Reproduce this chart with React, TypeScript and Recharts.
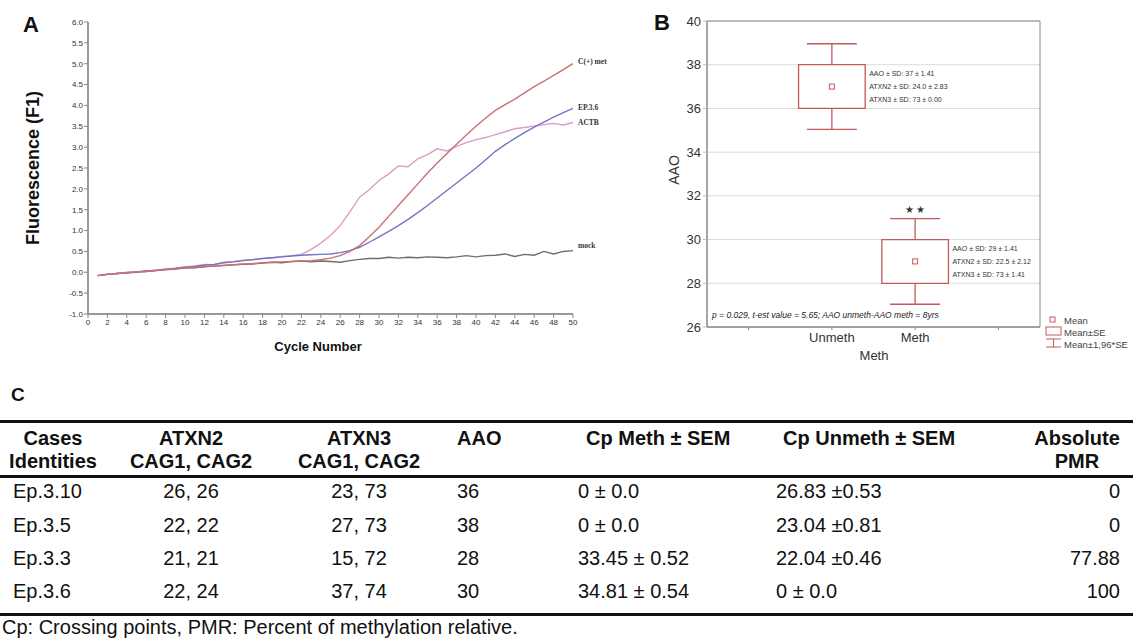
import React from "react";
import {
  LineChart,
  Line,
  XAxis,
  YAxis,
  ComposedChart,
  Scatter,
  ReferenceArea,
  ReferenceLine,
  CartesianGrid,
  LabelList,
} from "recharts";

// ---- panel A: real-time PCR curves ----
const cycles = [
  1, 2, 3, 4, 5, 6, 7, 8, 9, 10, 11, 12, 13, 14, 15, 16, 17, 18, 19, 20, 21, 22, 23, 24, 25,
  26, 27, 28, 29, 30, 31, 32, 33, 34, 35, 36, 37, 38, 39, 40, 41, 42, 43, 44, 45, 46, 47, 48, 49, 50,
];
const cPlusMet = [
  -0.08, -0.05, -0.03, -0.01, 0.01, 0.03, 0.05, 0.07, 0.09, 0.11,
  0.12, 0.14, 0.15, 0.17, 0.18, 0.2, 0.21, 0.23, 0.24, 0.25,
  0.26, 0.27, 0.28, 0.3, 0.34, 0.4, 0.5, 0.64, 0.85, 1.08,
  1.34, 1.6, 1.86, 2.12, 2.38, 2.62, 2.85, 3.07, 3.29, 3.5,
  3.7, 3.88, 4.02, 4.15, 4.3, 4.45, 4.58, 4.72, 4.86, 5.0,
];
const ep36 = [
  -0.08, -0.05, -0.03, -0.01, 0.0, 0.02, 0.04, 0.07, 0.09, 0.12,
  0.14, 0.17, 0.19, 0.23, 0.25, 0.28, 0.3, 0.33, 0.35, 0.37,
  0.39, 0.41, 0.42, 0.43, 0.44, 0.47, 0.52, 0.6, 0.72, 0.85,
  0.98, 1.12, 1.27, 1.43, 1.6, 1.78, 1.96, 2.14, 2.32, 2.5,
  2.7, 2.9, 3.06, 3.21, 3.35, 3.48, 3.6, 3.72, 3.83, 3.93,
];
const actb = [
  -0.08, -0.04, -0.03, 0.0, 0.01, 0.02, 0.05, 0.08, 0.1, 0.13,
  0.15, 0.19, 0.18, 0.24, 0.26, 0.29, 0.31, 0.33, 0.35, 0.38,
  0.4, 0.43, 0.55, 0.7, 0.88, 1.12, 1.45, 1.8, 1.98, 2.2,
  2.36, 2.55, 2.53, 2.72, 2.82, 2.96, 2.91, 3.02, 3.11, 3.18,
  3.23, 3.3, 3.37, 3.44, 3.47, 3.51, 3.54, 3.57, 3.53, 3.59,
];
const mock = [
  -0.08, -0.05, -0.03, -0.01, 0.01, 0.03, 0.04, 0.06, 0.08, 0.1,
  0.11, 0.13, 0.15, 0.16, 0.18, 0.19, 0.2, 0.22, 0.24, 0.23,
  0.26, 0.27, 0.25, 0.27, 0.26, 0.24, 0.28, 0.31, 0.33, 0.33,
  0.36, 0.34, 0.36, 0.35, 0.37, 0.36, 0.35, 0.37, 0.4, 0.37,
  0.4, 0.41, 0.44, 0.38, 0.43, 0.41, 0.5, 0.44, 0.5, 0.52,
];
const cycleTicks = [0, 2, 4, 6, 8, 10, 12, 14, 16, 18, 20, 22, 24, 26, 28, 30, 32, 34, 36, 38, 40, 42, 44, 46, 48, 50];
const fluoTicks = [-1, -0.5, 0, 0.5, 1, 1.5, 2, 2.5, 3, 3.5, 4, 4.5, 5, 5.5, 6];

// ---- panel B: AAO by methylation status ----
const groups = ["Unmeth", "Meth"];
const groupX = [1.5, 2.5];
const aaoMean = [37, 29];
const aaoSE = [1, 1];
const groupTicks = [0.5, 1.5, 2.5, 3.5];
const aaoTicks = [26, 28, 30, 32, 34, 36, 38, 40];
const groupNotes = [
  ["AAO ± SD: 37 ± 1.41", "ATXN2 ± SD: 24.0 ± 2.83", "ATXN3 ± SD: 73 ± 0.00"],
  ["AAO ± SD: 29 ± 1.41", "ATXN2 ± SD: 22.5 ± 2.12", "ATXN3 ± SD: 73 ± 1.41"],
];
const significance = ["", "★ ★"];

// ---- panel C: table ----
const caseIds = ["Ep.3.10", "Ep.3.5", "Ep.3.3", "Ep.3.6"];
const atxn2 = ["26, 26", "22, 22", "21, 21", "22, 24"];
const atxn3 = ["23, 73", "27, 73", "15, 72", "37, 74"];
const aaoCases = ["36", "38", "28", "30"];
const cpMeth = ["0 ± 0.0", "0 ± 0.0", "33.45 ± 0.52", "34.81 ± 0.54"];
const cpUnmeth = ["26.83 ±0.53", "23.04 ±0.81", "22.04 ±0.46", "0 ± 0.0"];
const absPmr = ["0", "0", "77.88", "100"];

const BOX_RED = "#c4585c";
const SANS = "'Liberation Sans', Arial, sans-serif";

const pcrData = cycles.map((c, i) => ({
  cycle: c,
  cPlusMet: cPlusMet[i],
  ep36: ep36[i],
  actb: actb[i],
  mock: mock[i],
}));

function endLabel(text: string, dy: number) {
  return (props: any) => {
    if (props.index !== cycles.length - 1) return null;
    return (
      <text
        x={props.x + 5}
        y={props.y + dy}
        fontSize={7.5}
        fontWeight="bold"
        fontFamily="'Liberation Serif', serif"
        fill="#333"
        dominantBaseline="central"
      >
        {text}
      </text>
    );
  };
}

function PanelA() {
  const series = [
    { key: "mock", color: "#6e6e6e", label: "mock", dy: -5 },
    { key: "actb", color: "#dc9cc4", label: "ACTB", dy: 0 },
    { key: "ep36", color: "#7474c4", label: "EP.3.6", dy: -1 },
    { key: "cPlusMet", color: "#cc7070", label: "C(+) met", dy: -2 },
  ];
  return (
    <div style={{ position: "absolute", left: 0, top: 0 }}>
      <LineChart width={620} height={340} data={pcrData} margin={{ top: 22, right: 47, left: 58, bottom: 6 }}>
        <XAxis
          dataKey="cycle"
          type="number"
          domain={[0, 50]}
          ticks={cycleTicks}
          interval={0}
          height={20}
          tick={{ fontSize: 8, fill: "#333", fontFamily: SANS }}
          tickSize={4}
          tickMargin={1}
          axisLine={{ stroke: "#999", strokeWidth: 2 }}
          tickLine={{ stroke: "#888" }}
        />
        <YAxis
          type="number"
          domain={[-1, 6]}
          ticks={fluoTicks}
          interval={0}
          width={30}
          tickFormatter={(v: number) => v.toFixed(1)}
          tick={{ fontSize: 8, fill: "#333", fontFamily: SANS }}
          tickSize={4}
          tickMargin={1}
          axisLine={{ stroke: "#999", strokeWidth: 2 }}
          tickLine={{ stroke: "#888" }}
        />
        {series.map((s) => (
          <Line
            key={s.key}
            dataKey={s.key}
            stroke={s.color}
            strokeWidth={1.4}
            dot={false}
            type="linear"
            isAnimationActive={false}
          >
            <LabelList dataKey={s.key} content={endLabel(s.label, s.dy)} />
          </Line>
        ))}
      </LineChart>
      <div
        style={{
          position: "absolute",
          left: 33,
          top: 168,
          transform: "translate(-50%, -50%) rotate(-90deg)",
          fontFamily: SANS,
          fontWeight: "bold",
          fontSize: 18,
          whiteSpace: "nowrap",
          color: "#111",
        }}
      >
        Fluorescence (F1)
      </div>
      <div
        style={{
          position: "absolute",
          left: 318,
          top: 346,
          transform: "translate(-50%, -50%)",
          fontFamily: SANS,
          fontWeight: "bold",
          fontSize: 13,
          whiteSpace: "nowrap",
          color: "#111",
        }}
      >
        Cycle Number
      </div>
    </div>
  );
}

function meanMarker(props: any) {
  return <rect x={props.cx - 2.5} y={props.cy - 2.5} width={5} height={5} fill="#fff" stroke={BOX_RED} strokeWidth={1} />;
}

function noteShape(props: any) {
  const lines: string[] = props.payload.lines;
  return (
    <g>
      {lines.map((t, k) => (
        <text
          key={k}
          x={props.cx + 4}
          y={props.cy + (k - 1) * 13}
          fontSize={7}
          fontFamily={SANS}
          fill="#333"
          dominantBaseline="central"
        >
          {t}
        </text>
      ))}
    </g>
  );
}

function starShape(props: any) {
  return (
    <text
      x={props.cx}
      y={props.cy - 9}
      fontSize={10}
      textAnchor="middle"
      fill="#333"
      dominantBaseline="central"
    >
      {props.payload.text}
    </text>
  );
}

function PanelB() {
  const BOX_HALF = 0.4;
  const CAP_HALF = 0.3;
  const means = groups.map((g, i) => ({ x: groupX[i], y: aaoMean[i] }));
  const notes = groups.map((g, i) => ({ x: groupX[i] + BOX_HALF, y: aaoMean[i], lines: groupNotes[i] }));
  const stars = groups
    .map((g, i) => ({ x: groupX[i], y: aaoMean[i] + 1.96 * aaoSE[i], text: significance[i] }))
    .filter((d) => d.text);
  return (
    <div style={{ position: "absolute", left: 620, top: 0 }}>
      <ComposedChart width={430} height={365} margin={{ top: 21, right: 10, left: 47, bottom: 14 }}>
        <CartesianGrid vertical={false} stroke="#dcdcdc" />
        <XAxis
          dataKey="x"
          type="number"
          domain={[0, 4]}
          ticks={groupTicks}
          interval={0}
          height={24}
          tickFormatter={(v: number) => {
            const i = groupX.indexOf(v);
            return i >= 0 ? groups[i] : "";
          }}
          tick={{ fontSize: 13, fill: "#333", fontFamily: SANS }}
          tickSize={3}
          tickMargin={3}
          axisLine={{ stroke: "#888" }}
          tickLine={{ stroke: "#888" }}
        />
        <YAxis
          dataKey="y"
          type="number"
          domain={[26, 40]}
          ticks={aaoTicks}
          interval={0}
          width={40}
          tick={{ fontSize: 13, fill: "#333", fontFamily: SANS }}
          tickSize={4}
          tickMargin={2}
          axisLine={{ stroke: "#888" }}
          tickLine={{ stroke: "#bbb" }}
        />
        <ReferenceArea x1={0} x2={4} y1={26} y2={40} fill="none" stroke="#888" strokeWidth={1} />
        {groups.map((g, i) => {
          const gx = groupX[i];
          const m = aaoMean[i];
          const se = aaoSE[i];
          const hi = m + 1.96 * se;
          const lo = m - 1.96 * se;
          return (
            <React.Fragment key={g}>
              <ReferenceArea
                x1={gx - BOX_HALF}
                x2={gx + BOX_HALF}
                y1={m - se}
                y2={m + se}
                fill="#fff"
                fillOpacity={1}
                stroke={BOX_RED}
                strokeWidth={1.3}
              />
              <ReferenceLine segment={[{ x: gx, y: m + se }, { x: gx, y: hi }]} stroke={BOX_RED} strokeWidth={1.3} />
              <ReferenceLine segment={[{ x: gx, y: m - se }, { x: gx, y: lo }]} stroke={BOX_RED} strokeWidth={1.3} />
              <ReferenceLine segment={[{ x: gx - CAP_HALF, y: hi }, { x: gx + CAP_HALF, y: hi }]} stroke={BOX_RED} strokeWidth={1.3} />
              <ReferenceLine segment={[{ x: gx - CAP_HALF, y: lo }, { x: gx + CAP_HALF, y: lo }]} stroke={BOX_RED} strokeWidth={1.3} />
            </React.Fragment>
          );
        })}
        <Scatter data={means} shape={meanMarker} isAnimationActive={false} />
        <Scatter data={notes} shape={noteShape} isAnimationActive={false} />
        <Scatter data={stars} shape={starShape} isAnimationActive={false} />
      </ComposedChart>
      <div
        style={{
          position: "absolute",
          left: 92,
          top: 310,
          fontFamily: SANS,
          fontStyle: "italic",
          fontSize: 8.5,
          whiteSpace: "nowrap",
          color: "#222",
        }}
      >
        p = 0.029, t-est value = 5.65; AAO unmeth-AAO meth = 8yrs
      </div>
      <div
        style={{
          position: "absolute",
          left: 54,
          top: 170,
          transform: "translate(-50%, -50%) rotate(-90deg)",
          fontFamily: SANS,
          fontSize: 14,
          color: "#333",
        }}
      >
        AAO
      </div>
      <div
        style={{
          position: "absolute",
          left: 254,
          top: 355,
          transform: "translate(-50%, -50%)",
          fontFamily: SANS,
          fontSize: 13,
          color: "#333",
        }}
      >
        Meth
      </div>
      <svg width={90} height={42} style={{ position: "absolute", left: 424, top: 312 }}>
        <rect x={6} y={5} width={5} height={5} fill="#fff" stroke={BOX_RED} />
        <text x={20} y={8} fontSize={9.5} fontFamily={SANS} fill="#444" dominantBaseline="central">Mean</text>
        <rect x={2} y={15} width={15} height={8} fill="#fff" stroke={BOX_RED} />
        <text x={20} y={20} fontSize={9.5} fontFamily={SANS} fill="#444" dominantBaseline="central">Mean±SE</text>
        <line x1={2} y1={27} x2={17} y2={27} stroke={BOX_RED} />
        <line x1={9.5} y1={27} x2={9.5} y2={35} stroke={BOX_RED} />
        <line x1={2} y1={35} x2={17} y2={35} stroke={BOX_RED} />
        <text x={20} y={32} fontSize={9.5} fontFamily={SANS} fill="#444" dominantBaseline="central">Mean±1,96*SE</text>
      </svg>
    </div>
  );
}

type Align = "left" | "center" | "right";
type Col = { head: string[]; values: string[]; x: number; align: Align; headX?: number; headAlign?: Align };

function Cell({ text, x, y, align, bold }: { text: string; x: number; y: number; align: Align; bold?: boolean }) {
  const tx = align === "left" ? "0" : align === "center" ? "-50%" : "-100%";
  return (
    <div
      style={{
        position: "absolute",
        left: x,
        top: y,
        transform: `translate(${tx}, -50%)`,
        fontFamily: SANS,
        fontSize: 20,
        fontWeight: bold ? "bold" : "normal",
        whiteSpace: "nowrap",
        color: "#111",
        textAlign: align,
        lineHeight: "22px",
      }}
    >
      {text}
    </div>
  );
}

function PanelC() {
  const cols: Col[] = [
    { head: ["Cases", "Identities"], values: caseIds, x: 13, align: "left", headX: 53, headAlign: "center" },
    { head: ["ATXN2", "CAG1, CAG2"], values: atxn2, x: 191, align: "center" },
    { head: ["ATXN3", "CAG1, CAG2"], values: atxn3, x: 359, align: "center" },
    { head: ["AAO"], values: aaoCases, x: 457, align: "left" },
    { head: ["Cp Meth ± SEM"], values: cpMeth, x: 578, align: "left", headX: 586 },
    { head: ["Cp Unmeth ± SEM"], values: cpUnmeth, x: 776, align: "left", headX: 783 },
    { head: ["Absolute", "PMR"], values: absPmr, x: 1120, align: "right", headX: 1077, headAlign: "center" },
  ];
  const headY = [438, 461];
  const rowY = [491, 525, 558, 591];
  const rule = (y: number) => (
    <div style={{ position: "absolute", left: 0, top: y, width: 1133, height: 3, background: "#111" }} />
  );
  return (
    <div style={{ position: "absolute", left: 0, top: 0 }}>
      <div style={{ position: "absolute", left: 11, top: 384, fontFamily: SANS, fontWeight: "bold", fontSize: 19, color: "#111" }}>C</div>
      {rule(420)}
      {rule(475)}
      {rule(613)}
      {cols.map((c, ci) => (
        <React.Fragment key={ci}>
          {c.head.map((h, hi) => (
            <Cell key={"h" + hi} text={h} x={c.headX ?? c.x} y={headY[hi]} align={c.headAlign ?? c.align} bold />
          ))}
          {c.values.map((v, ri) => (
            <Cell key={"v" + ri} text={v} x={c.x} y={rowY[ri]} align={c.align} />
          ))}
        </React.Fragment>
      ))}
      <div style={{ position: "absolute", left: 2, top: 616, fontFamily: SANS, fontSize: 20, whiteSpace: "nowrap", color: "#111", lineHeight: "22px" }}>
        Cp: Crossing points, PMR: Percent of methylation relative.
      </div>
    </div>
  );
}

export default function App() {
  return (
    <div style={{ position: "absolute", left: 0, top: 0, width: 1133, height: 638, background: "#fff", overflow: "hidden" }}>
      <div style={{ position: "absolute", left: 23, top: 12, fontFamily: SANS, fontWeight: "bold", fontSize: 22, color: "#111" }}>A</div>
      <div style={{ position: "absolute", left: 654, top: 10, fontFamily: SANS, fontWeight: "bold", fontSize: 22, color: "#111" }}>B</div>
      <PanelA />
      <PanelB />
      <PanelC />
    </div>
  );
}
